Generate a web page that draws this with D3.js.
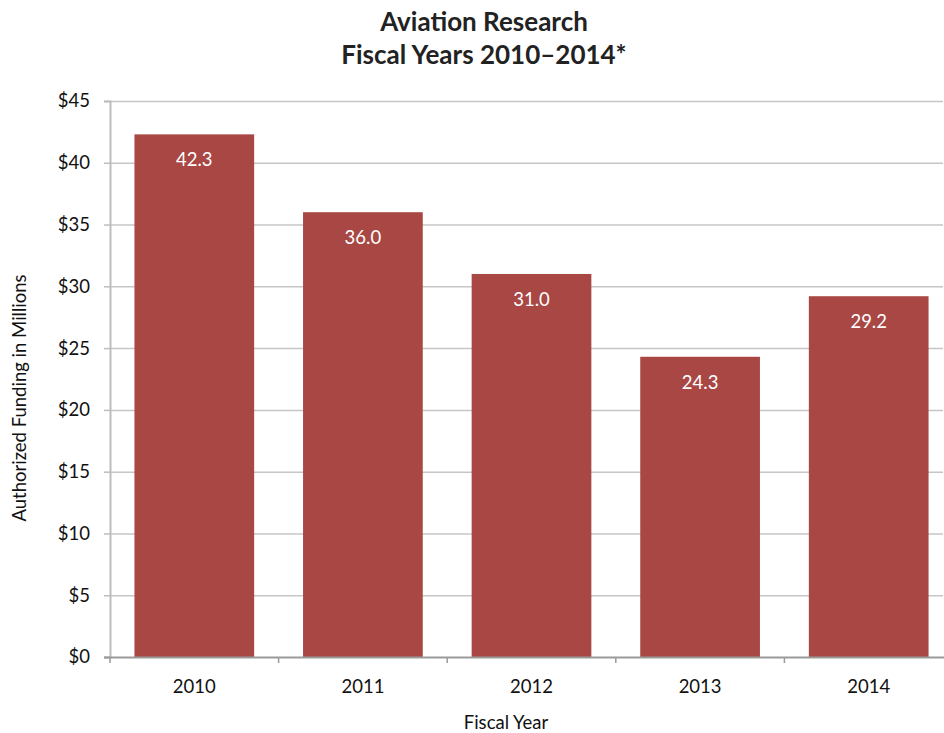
<!DOCTYPE html>
<html>
<head>
<meta charset="utf-8">
<script src="https://cdn.jsdelivr.net/npm/d3@7"></script>
<style>
  html, body { margin: 0; padding: 0; background: #fff; }
  svg { display: block; font-family: Lato, "Open Sans", sans-serif; }
</style>
</head>
<body>
<svg id="chart" width="944" height="733"></svg>
<script>
// Authorized funding for aviation research, millions of dollars
const years = ["2010", "2011", "2012", "2013", "2014"];
const funding = [42.3, 36.0, 31.0, 24.3, 29.2];
const yTicks = [0, 5, 10, 15, 20, 25, 30, 35, 40, 45];
const titleLines = ["Aviation Research", "Fiscal Years 2010\u20132014*"];

const svg = d3.select("#chart");
const plotLeft = 110, plotRight = 953, plotTop = 101, plotBottom = 657;
const labelSize = 18.5;

const x = d3.scaleBand().domain(years).range([plotLeft, plotRight]).paddingInner(0.29).paddingOuter(0.145);
const y = d3.scaleLinear().domain([0, 45]).range([plotBottom, plotTop]);

// horizontal gridlines
svg.append("g").selectAll("line").data(yTicks.filter(d => d > 0)).join("line")
  .attr("x1", plotLeft).attr("x2", 943)
  .attr("y1", d => y(d) + 0.5).attr("y2", d => y(d) + 0.5)
  .attr("stroke", "#c6c6c6").attr("stroke-width", 1.5);

// bars
svg.append("g").selectAll("rect").data(years).join("rect")
  .attr("x", d => x(d))
  .attr("width", x.bandwidth())
  .attr("y", (d, i) => y(funding[i]))
  .attr("height", (d, i) => y(0) - y(funding[i]))
  .attr("fill", "#a94744");

// value labels inside bars
svg.append("g").selectAll("text").data(years).join("text")
  .attr("x", d => x(d) + x.bandwidth() / 2)
  .attr("y", (d, i) => y(funding[i]) + 32)
  .attr("text-anchor", "middle")
  .attr("fill", "#fff")
  .attr("font-size", labelSize)
  .text((d, i) => funding[i].toFixed(1));

// y axis
const yAxis = svg.append("g").attr("transform", `translate(${plotLeft},0)`)
  .call(d3.axisLeft(y).tickValues(yTicks).tickSize(6).tickPadding(14).tickFormat(d => "$" + d));
yAxis.select(".domain").attr("stroke", "#bdbdbd").attr("stroke-width", 2);
yAxis.selectAll(".tick line").attr("stroke", "#bdbdbd").attr("stroke-width", 1.5);
yAxis.selectAll(".tick text").attr("font-size", labelSize).attr("fill", "#111")
  .attr("font-family", "Lato, 'Open Sans', sans-serif");

// x axis with boundary ticks between categories
const bounds = d3.range(years.length + 1).map(i => plotLeft + i * x.step());
const xg = svg.append("g");
xg.append("line").attr("x1", plotLeft - 6).attr("x2", 944)
  .attr("y1", plotBottom + 0.5).attr("y2", plotBottom + 0.5)
  .attr("stroke", "#9a9a9a").attr("stroke-width", 2);
xg.selectAll("line.tk").data(bounds).join("line").attr("class", "tk")
  .attr("x1", d => d).attr("x2", d => d)
  .attr("y1", plotBottom).attr("y2", plotBottom + 6)
  .attr("stroke", "#9a9a9a").attr("stroke-width", 1.5);
xg.selectAll("text").data(years).join("text")
  .attr("x", d => x(d) + x.bandwidth() / 2)
  .attr("y", 693)
  .attr("text-anchor", "middle")
  .attr("font-size", labelSize)
  .attr("fill", "#111")
  .text(d => d);

// axis titles
svg.append("text").attr("x", 506).attr("y", 729).attr("text-anchor", "middle")
  .attr("font-size", labelSize).attr("fill", "#111").text("Fiscal Year");
svg.append("text").attr("transform", "translate(26,398) rotate(-90)").attr("text-anchor", "middle")
  .attr("font-size", labelSize).attr("fill", "#111").text("Authorized Funding in Millions");

// title
svg.append("g").selectAll("text").data(titleLines).join("text")
  .attr("x", 484).attr("y", (d, i) => 31 + i * 33)
  .attr("text-anchor", "middle")
  .attr("font-size", 26).attr("font-weight", "bold").attr("fill", "#222")
  .text(d => d);
</script>
</body>
</html>
